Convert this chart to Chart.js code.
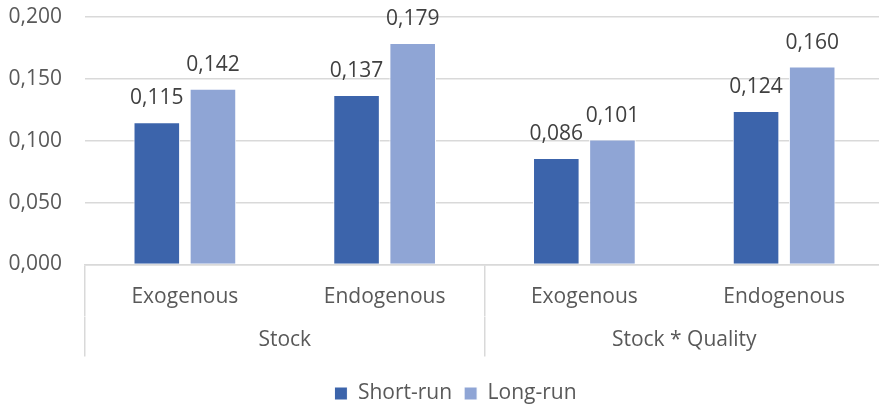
<!DOCTYPE html>
<html lang="en">
<head>
    <meta charset="UTF-8">
    <title>Short-run vs Long-run</title>
    <style>
        body {
            margin: 0;
            padding: 0;
            background-color: #ffffff;
            overflow: hidden;
        }
        /* a touch wider than the window: the plot runs past the right edge, as in the original */
        .chart-container {
            width: 884px;
            height: 405px;
        }
    </style>
    <script src="https://cdn.jsdelivr.net/npm/chart.js"></script>
</head>
<body>

    <div class="chart-container">
        <canvas id="effectChart"></canvas>
    </div>

    <script>
        // Values
        const specLabels = ['Exogenous', 'Endogenous', 'Exogenous', 'Endogenous'];
        const groupLabels = ['Stock', 'Stock * Quality'];
        const shortRun = [0.115, 0.137, 0.086, 0.124];
        const longRun = [0.142, 0.179, 0.101, 0.160];
        const yTicks = [0, 0.05, 0.1, 0.15, 0.2];

        const fontFamily = "'Open Sans', 'Noto Sans', sans-serif";
        const gridColor = '#d9d9d9';
        const fmt = v => v.toFixed(3).replace('.', ',');

        // Value labels above each bar
        const valueLabels = {
            id: 'valueLabels',
            afterDatasetsDraw(chart) {
                const ctx = chart.ctx;
                ctx.save();
                ctx.font = '21px ' + fontFamily;
                ctx.fillStyle = '#404040';
                ctx.textAlign = 'center';
                ctx.textBaseline = 'alphabetic';
                chart.data.datasets.forEach((ds, i) => {
                    chart.getDatasetMeta(i).data.forEach((bar, j) => {
                        ctx.fillText(fmt(ds.data[j]), bar.x, bar.y - 18);
                    });
                });
                ctx.restore();
            }
        };

        // Nudge the legend a little to the right, like the original
        const legendShift = {
            id: 'legendShift',
            afterLayout(chart) {
                chart.legend.left += 10;
                chart.legend.right += 10;
            }
        };

        Chart.defaults.font.family = fontFamily;
        Chart.defaults.font.size = 21;
        Chart.defaults.color = '#595959';

        const ctx = document.getElementById('effectChart').getContext('2d');
        const effectChart = new Chart(ctx, {
            type: 'bar',
            data: {
                labels: specLabels,
                datasets: [{
                    label: 'Short-run',
                    data: shortRun,
                    backgroundColor: '#3c64ab',
                    borderColor: '#ffffff',
                    borderWidth: 1,
                    categoryPercentage: 0.562,
                    barPercentage: 0.83
                }, {
                    label: 'Long-run',
                    data: longRun,
                    backgroundColor: '#8fa5d5',
                    borderColor: '#ffffff',
                    borderWidth: 1,
                    categoryPercentage: 0.562,
                    barPercentage: 0.83
                }]
            },
            options: {
                responsive: true,
                maintainAspectRatio: false,
                animation: false,
                layout: {
                    padding: { top: 17, right: 0, left: 7, bottom: -9 }
                },
                plugins: {
                    legend: {
                        position: 'bottom',
                        labels: {
                            boxWidth: 13,
                            boxHeight: 13,
                            padding: 12
                        }
                    },
                    tooltip: { enabled: false }
                },
                scales: {
                    y: {
                        min: 0,
                        max: 0.2,
                        afterBuildTicks: scale => {
                            scale.ticks = yTicks.map(v => ({ value: v }));
                        },
                        ticks: {
                            padding: 23,
                            callback: v => fmt(v)
                        },
                        grid: {
                            color: gridColor,
                            lineWidth: 1.5,
                            drawTicks: false
                        },
                        border: { display: false },
                        afterFit: scale => {
                            scale.width = 78;
                            scale.paddingTop = 0;
                            scale.paddingBottom = 0;
                        }
                    },
                    x: {
                        position: 'bottom',
                        grid: {
                            offset: true,
                            drawOnChartArea: false,
                            tickLength: 52,
                            lineWidth: 1.5,
                            color: c => (c.index === undefined || c.index % 2 === 0) ? gridColor : 'rgba(0,0,0,0)'
                        },
                        border: { color: gridColor, width: 1.5 },
                        ticks: {
                            padding: -32,
                            maxRotation: 0
                        },
                        afterFit: scale => { scale.height = 52; }
                    },
                    x2: {
                        type: 'category',
                        position: 'bottom',
                        weight: 1,
                        labels: groupLabels,
                        offset: true,
                        grid: {
                            offset: true,
                            drawOnChartArea: false,
                            tickLength: 40,
                            lineWidth: 1.5,
                            color: gridColor
                        },
                        border: { display: false },
                        ticks: {
                            padding: -28.6,
                            maxRotation: 0
                        },
                        afterFit: scale => { scale.height = 54.5; }
                    }
                }
            },
            plugins: [valueLabels, legendShift]
        });
    </script>

</body>
</html>
